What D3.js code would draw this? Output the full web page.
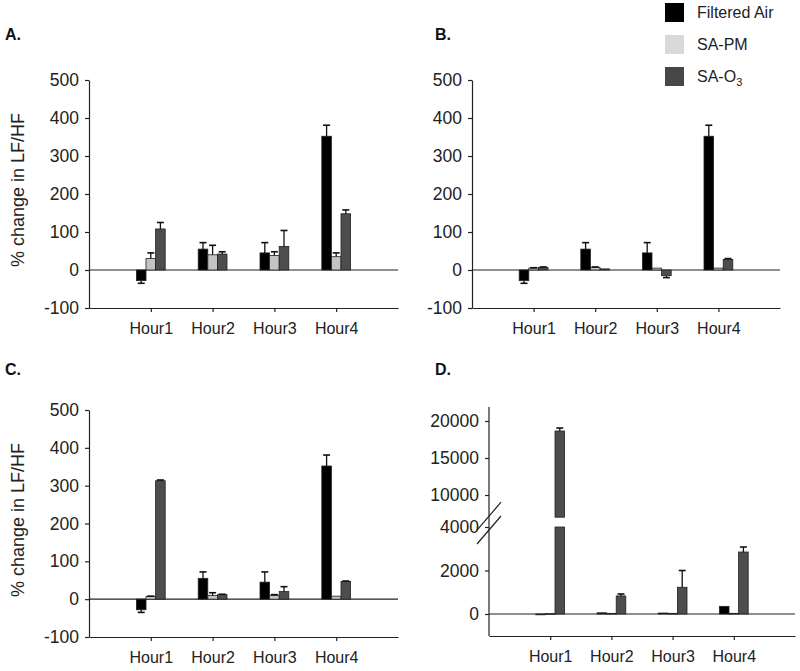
<!DOCTYPE html>
<html><head><meta charset="utf-8">
<script src="https://cdn.jsdelivr.net/npm/d3@7"></script>
<style>
body{margin:0;background:#fff;}
svg{display:block;font-family:"Liberation Sans",Arial,sans-serif;}
.tick text{fill:#222;}
</style></head>
<body><svg id="c" width="800" height="671"></svg>
<script>
const hours = ["Hour1","Hour2","Hour3","Hour4"];
const seriesNames = ["Filtered Air","SA-PM","SA-O3"];
const seriesColors = ["#000000","#c4c4c4","#4d4d4d"];
const legendColors = ["#000000","#d9d9d9","#474747"];

const filteredAir = [-28, 55, 45, 352];
const filteredAirErr = [7, 17, 27, 29];

const pmA = [30, 40, 38, 35];
const pmAErr = [15, 25, 10, 10];
const o3A = [108, 42, 62, 148];
const o3AErr = [17, 6, 42, 10];

const pmB = [5, 7, 5, 5];
const pmBErr = [1, 1, 0, 0];
const o3B = [7, 3, -15, 28];
const o3BErr = [1, 0, 5, 2];

const pmC = [7, 10, 10, 8];
const pmCErr = [1, 7, 2, 0];
const o3C = [313, 12, 20, 47];
const o3CErr = [2, 1, 13, 1];

const faD = [-28, 55, 45, 352];
const pmD = [20, 30, 30, 30];
const o3D = [18650, 830, 1230, 2850];
const o3DErr = [400, 90, 770, 230];

const yTicksPct = [-100, 0, 100, 200, 300, 400, 500];
const yTicksDLow = [0, 2000, 4000];
const yTicksDHigh = [10000, 15000, 20000];
const panelLabels = ["A.", "B.", "C.", "D."];
const yTitle = "% change in LF/HF";

const svg = d3.select("#c");
svg.append("rect").attr("width",800).attr("height",671).attr("fill","#fff");

const BW = 9.6, CAP = 3.5;
const fmt = d => String(d);

function styleAxis(g, fs){
  g.selectAll("path.domain").attr("stroke","#222").attr("stroke-width",1.2);
  g.selectAll(".tick line").attr("stroke","#222").attr("stroke-width",1.2);
  g.selectAll(".tick text").attr("font-size",fs).attr("fill","#222");
}

function drawBars(g, x, yFn, series){
  series.forEach((s, si) => {
    s.vals.forEach((v, i) => {
      const cx = x(hours[i]) + (si - 1) * BW;
      const y0 = yFn(0), y1 = yFn(v);
      g.append("rect").attr("x", cx - BW/2).attr("width", BW)
        .attr("y", Math.min(y0, y1)).attr("height", Math.max(0.8, Math.abs(y1 - y0)))
        .attr("fill", seriesColors[si]).attr("stroke", "#222").attr("stroke-width", 0.8);
      const e = s.err ? s.err[i] : 0;
      if (e > 0) {
        const ye = yFn(v >= 0 ? v + e : v - e);
        g.append("line").attr("x1", cx).attr("x2", cx).attr("y1", y1).attr("y2", ye)
          .attr("stroke", "#111").attr("stroke-width", 1.3);
        g.append("line").attr("x1", cx - CAP).attr("x2", cx + CAP).attr("y1", ye).attr("y2", ye)
          .attr("stroke", "#111").attr("stroke-width", 1.6);
      }
    });
  });
}

function pctPanel(p){
  const g = svg.append("g");
  const x = d3.scalePoint().domain(hours).range([p.x0, p.x1]).padding(1);
  const y = d3.scaleLinear().domain([-100, 500]).range([p.yb, p.yt]);
  const ya = g.append("g").attr("transform", `translate(${p.x0},0)`)
    .call(d3.axisLeft(y).tickValues(yTicksPct).tickFormat(fmt).tickSize(4).tickSizeOuter(0).tickPadding(6));
  styleAxis(ya, 17.5);
  const xa = g.append("g").attr("transform", `translate(0,${p.yb})`)
    .call(d3.axisBottom(x).tickSize(4).tickSizeOuter(0).tickPadding(11));
  styleAxis(xa, 16);
  g.append("line").attr("x1", p.x0).attr("x2", p.x1).attr("y1", y(0)).attr("y2", y(0))
    .attr("stroke", "#222").attr("stroke-width", 1.2);
  drawBars(g, x, y, p.series);
  g.append("text").attr("x", p.lx).attr("y", p.ly).attr("font-size", 16).attr("font-weight", "bold")
    .attr("fill", "#111").text(p.label);
  if (p.title) {
    g.append("text").attr("transform", `translate(24,${p.ty}) rotate(-90)`)
      .attr("text-anchor", "middle").attr("font-size", 18).attr("fill", "#222").text(yTitle);
  }
}

pctPanel({x0: 89, x1: 398, yt: 80, yb: 308, lx: 5, ly: 40, label: panelLabels[0], title: true, ty: 190,
  series: [{vals: filteredAir, err: filteredAirErr}, {vals: pmA, err: pmAErr}, {vals: o3A, err: o3AErr}]});
pctPanel({x0: 472, x1: 780, yt: 80, yb: 308, lx: 435, ly: 40, label: panelLabels[1], title: false,
  series: [{vals: filteredAir, err: filteredAirErr}, {vals: pmB, err: pmBErr}, {vals: o3B, err: o3BErr}]});
pctPanel({x0: 89, x1: 398, yt: 410, yb: 637, lx: 5, ly: 375, label: panelLabels[2], title: true, ty: 520,
  series: [{vals: filteredAir, err: filteredAirErr}, {vals: pmC, err: pmCErr}, {vals: o3C, err: o3CErr}]});

// Panel D with broken axis
(function(){
  const g = svg.append("g");
  const X0 = 489, X1 = 795, YB = 636;
  const x = d3.scalePoint().domain(hours).range([X0, X1]).padding(1);
  const yL = d3.scaleLinear().domain([0, 4000]).range([614, 527]);
  const yU = d3.scaleLinear().domain([10000, 20000]).range([495, 421]);
  const breakLow = 4000, breakHigh = 7000;
  const yTop = yU(21900);
  g.append("line").attr("x1", X0).attr("x2", X0).attr("y1", yTop).attr("y2", YB)
    .attr("stroke", "#222").attr("stroke-width", 1.2);
  const al = g.append("g").attr("transform", `translate(${X0},0)`)
    .call(d3.axisLeft(yL).tickValues(yTicksDLow).tickSize(4).tickPadding(6).tickFormat(fmt));
  al.select("path.domain").remove();
  styleAxis(al, 17.5);
  const au = g.append("g").attr("transform", `translate(${X0},0)`)
    .call(d3.axisLeft(yU).tickValues(yTicksDHigh).tickSize(4).tickPadding(6).tickFormat(fmt));
  au.select("path.domain").remove();
  styleAxis(au, 17.5);
  const xa = g.append("g").attr("transform", `translate(0,${YB})`)
    .call(d3.axisBottom(x).tickSize(4).tickSizeOuter(0).tickPadding(11));
  styleAxis(xa, 16);
  g.append("line").attr("x1", X0).attr("x2", X1).attr("y1", yL(0)).attr("y2", yL(0))
    .attr("stroke", "#222").attr("stroke-width", 1.2);

  const yFn = v => v <= breakLow ? yL(v) : yU(v);
  const series = [{vals: faD}, {vals: pmD}, {vals: o3D, err: o3DErr}];
  series.forEach((s, si) => {
    s.vals.forEach((v, i) => {
      const cx = x(hours[i]) + (si - 1) * BW;
      const fill = seriesColors[si];
      if (v > breakLow) {
        g.append("rect").attr("x", cx - BW/2).attr("width", BW)
          .attr("y", yL(breakLow)).attr("height", yL(0) - yL(breakLow))
          .attr("fill", fill).attr("stroke", "#222").attr("stroke-width", 0.8);
        g.append("rect").attr("x", cx - BW/2).attr("width", BW)
          .attr("y", yU(v)).attr("height", yU(breakHigh) - yU(v))
          .attr("fill", fill).attr("stroke", "#222").attr("stroke-width", 0.8);
      } else {
        const y0 = yL(0), y1 = yL(v);
        g.append("rect").attr("x", cx - BW/2).attr("width", BW)
          .attr("y", Math.min(y0, y1)).attr("height", Math.max(0.8, Math.abs(y1 - y0)))
          .attr("fill", fill).attr("stroke", "#222").attr("stroke-width", 0.8);
      }
      const e = s.err ? s.err[i] : 0;
      if (e > 0) {
        const yv = yFn(v), ye = yFn(v + e);
        g.append("line").attr("x1", cx).attr("x2", cx).attr("y1", yv).attr("y2", ye)
          .attr("stroke", "#111").attr("stroke-width", 1.3);
        g.append("line").attr("x1", cx - CAP).attr("x2", cx + CAP).attr("y1", ye).attr("y2", ye)
          .attr("stroke", "#111").attr("stroke-width", 1.6);
      }
    });
  });
  // break marks
  const bm = [yU(breakHigh) - 1, yL(breakLow) + 3];
  bm.forEach(yc => {
    g.append("line").attr("x1", X0 - 12).attr("y1", yc + 14).attr("x2", X0 + 12).attr("y2", yc - 14)
      .attr("stroke", "#222").attr("stroke-width", 1.2);
  });
  g.append("text").attr("x", 435).attr("y", 375).attr("font-size", 16).attr("font-weight", "bold")
    .attr("fill", "#111").text(panelLabels[3]);
})();

// Legend
const lg = svg.append("g");
seriesNames.forEach((n, i) => {
  const yy = 3 + i * 32;
  lg.append("rect").attr("x", 665).attr("y", yy).attr("width", 19).attr("height", 19).attr("fill", legendColors[i]);
  const t = lg.append("text").attr("x", 697).attr("y", yy + 15).attr("font-size", 16).attr("fill", "#222");
  if (n === "SA-O3") {
    t.append("tspan").text("SA-O");
    t.append("tspan").attr("font-size", 11).attr("dy", 4).text("3");
  } else t.text(n);
});
</script></body></html>
